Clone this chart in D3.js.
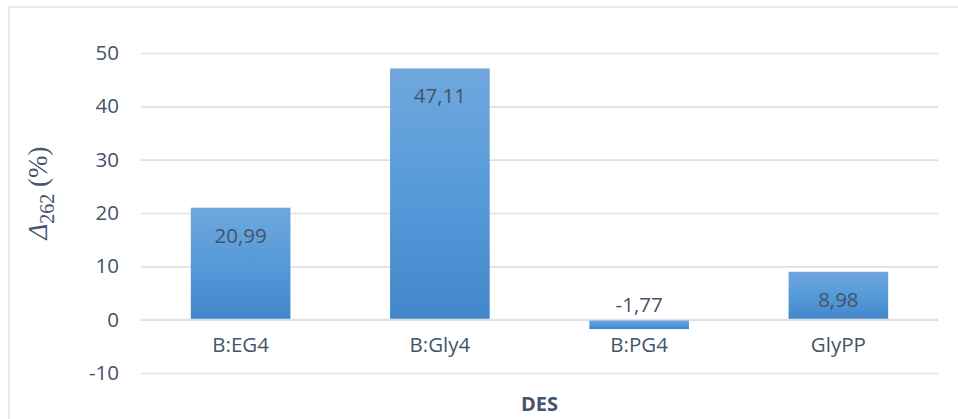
<!DOCTYPE html>
<html><head><meta charset="utf-8">
<script src="https://cdn.jsdelivr.net/npm/d3@7"></script>
<style>body{margin:0;background:#fff}svg{display:block}</style>
</head><body>
<svg id="c" width="958" height="419"></svg>
<script>
const categories = ["B:EG4", "B:Gly4", "B:PG4", "GlyPP"];
const values = [20.99, 47.11, -1.77, 8.98];
const labels = ["20,99", "47,11", "-1,77", "8,98"];
const yTicks = [-10, 0, 10, 20, 30, 40, 50];

const svg = d3.select("#c");
const textColor = "#44546a";
const font = "'Open Sans', Calibri, sans-serif";
const fs = "20.5px";

// chart border
svg.append("rect").attr("x", 9).attr("y", 7).attr("width", 960).attr("height", 420)
  .attr("fill", "none").attr("stroke", "#d9dde2").attr("stroke-width", 1.2);

const x = d3.scaleBand().domain(categories).range([141, 938]).paddingInner(0.5).paddingOuter(0.25);
const y = d3.scaleLinear().domain([-10, 50]).range([373, 53]);

const defs = svg.append("defs");
const g = defs.append("linearGradient").attr("id", "bg").attr("x1", 0).attr("y1", 0).attr("x2", 0).attr("y2", 1);
g.append("stop").attr("offset", "0%").attr("stop-color", "#70a7dd");
g.append("stop").attr("offset", "50%").attr("stop-color", "#559ad9");
g.append("stop").attr("offset", "100%").attr("stop-color", "#4287c9");

// gridlines
const yAxis = d3.axisLeft(y).tickValues(yTicks).tickSize(-(938 - 141)).tickPadding(22).tickFormat(d => String(d));
const ga = svg.append("g").attr("transform", "translate(141,0)").call(yAxis);
ga.select(".domain").remove();
ga.selectAll(".tick line").attr("stroke", "#dde1e6").attr("stroke-width", 1.6);
ga.selectAll(".tick text").attr("fill", textColor).style("font-family", font).style("font-size", fs);

// bars
svg.selectAll("rect.bar").data(values).join("rect").attr("class", "bar")
  .attr("x", (d, i) => x(categories[i]))
  .attr("width", x.bandwidth())
  .attr("y", d => y(Math.max(0, d)))
  .attr("height", d => Math.abs(y(d) - y(0)))
  .attr("fill", "url(#bg)");

// zero line on top
svg.append("line").attr("x1", 141).attr("x2", 938).attr("y1", y(0)).attr("y2", y(0))
  .attr("stroke", "#dde1e6").attr("stroke-width", 1.6);

// value labels
svg.selectAll("text.val").data(values).join("text").attr("class", "val")
  .attr("x", (d, i) => x(categories[i]) + x.bandwidth() / 2)
  .attr("y", d => d >= 0 ? y(d) + 35 : y(0) - 8)
  .attr("text-anchor", "middle").attr("fill", textColor)
  .style("font-family", font).style("font-size", fs)
  .text((d, i) => labels[i]);

// category labels
svg.selectAll("text.cat").data(categories).join("text").attr("class", "cat")
  .attr("x", d => x(d) + x.bandwidth() / 2).attr("y", 352)
  .attr("text-anchor", "middle").attr("fill", textColor)
  .style("font-family", font).style("font-size", fs).text(d => d);

// x title
svg.append("text").attr("x", 539.5).attr("y", 411).attr("text-anchor", "middle")
  .attr("fill", textColor).style("font-family", font).style("font-size", "20px").style("font-weight", "bold").text("DES");

// y title
const yt = svg.append("text").attr("transform", "translate(47,193) rotate(-90)").attr("text-anchor", "middle")
  .attr("fill", textColor).style("font-family", "'Liberation Serif', 'Times New Roman', serif").style("font-size", "27px");
yt.append("tspan").style("font-style", "italic").text("Δ");
yt.append("tspan").attr("dy", 7).style("font-size", "20px").text("262");
yt.append("tspan").attr("dy", -7).text(" (%)");
</script>
</body></html>
